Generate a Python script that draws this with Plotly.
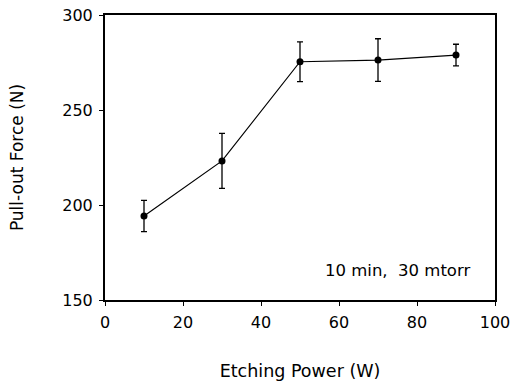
import plotly.graph_objects as go

power = [10, 30, 50, 70, 90]
force = [194.2, 223.2, 275.4, 276.3, 278.9]
err = [8.2, 14.5, 10.5, 11.2, 5.7]
x_ticks = [0, 20, 40, 60, 80, 100]
y_ticks = [150, 200, 250, 300]

FONT = "DejaVu Sans"

fig = go.Figure()
fig.add_trace(go.Scatter(
    x=power, y=force, mode="lines+markers",
    line=dict(color="black", width=1.2),
    marker=dict(color="black", size=7),
    error_y=dict(type="data", array=err, visible=True, color="black", thickness=1.3, width=3),
    showlegend=False,
))

fig.add_annotation(x=75.0, y=165.5, text="10 min,  30 mtorr", showarrow=False,
                   font=dict(family=FONT, size=16.5, color="black"))

axis_common = dict(showgrid=False, zeroline=False, showline=True, linecolor="black", linewidth=2,
                   mirror=True, ticks="outside", ticklen=4, tickcolor="black", tickwidth=1,
                   automargin=False, ticklabeloverflow="allow",
                   tickfont=dict(family=FONT, size=16, color="black"))

fig.update_xaxes(range=[0, 100], tickvals=x_ticks, ticklabelstandoff=3,
                 title=dict(text="Etching Power (W)", font=dict(family=FONT, size=17.5, color="black"), standoff=34),
                 **axis_common)
fig.update_yaxes(range=[150, 300], tickvals=y_ticks, ticklabelstandoff=3,
                 title=dict(text="Pull-out Force (N)", font=dict(family=FONT, size=17, color="black"), standoff=34),
                 **axis_common)

fig.update_layout(width=511, height=392, margin=dict(l=105, r=16, t=15, b=92),
                  plot_bgcolor="white", paper_bgcolor="white")

fig.write_html("out.html", config={"displayModeBar": False},
               post_script="document.body.style.margin='0';document.body.style.overflow='hidden';")
